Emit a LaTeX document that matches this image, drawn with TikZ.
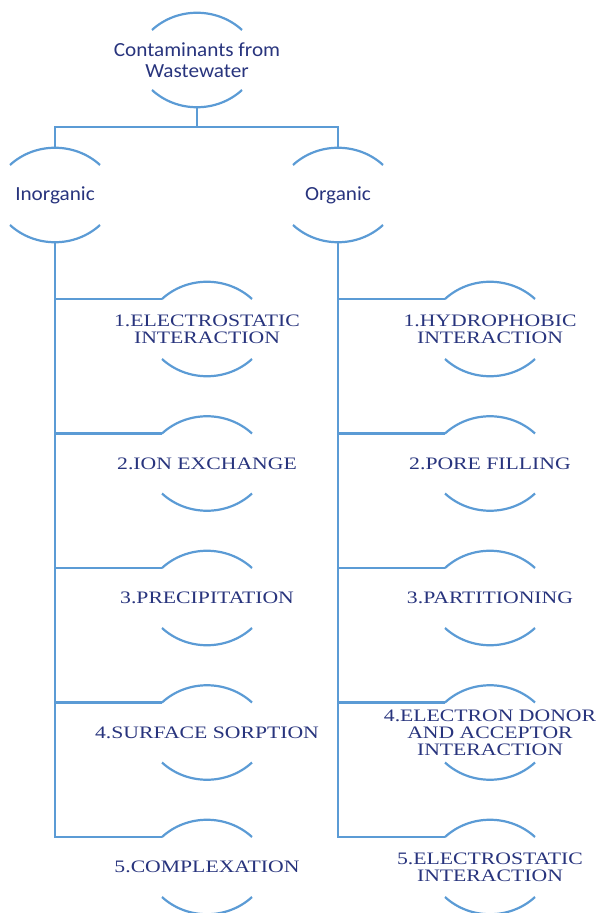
\documentclass[tikz,border=0pt]{standalone}
\usepackage{fontspec}
\newfontfamily\itemfont{Liberation Serif}[FakeStretch=1.24]
\newfontfamily\headfont{Carlito}[FakeStretch=1.06]
\definecolor{linkblue}{RGB}{91,155,213}
\definecolor{inkblue}{RGB}{40,52,125}

\begin{document}
\begin{tikzpicture}[x=0.5pt,y=-0.5pt,
  conn/.style={draw=linkblue, line width=1.1pt},
  head/.style={font=\headfont\fontsize{10}{10.5}\selectfont, text=inkblue, align=center, inner sep=0pt},
  item/.style={font=\itemfont\fontsize{8.75}{8.5}\selectfont, text=inkblue, align=center, inner sep=0pt},
  pics/arcpair/.style={code={
    \draw[conn] (-45,-30) .. controls (-20,-53) and (20,-53) .. (45,-30);
    \draw[conn] (-45,30) .. controls (-20,53) and (20,53) .. (45,30);
    \coordinate (-in) at (-45,-30);
    \coordinate (-top) at (0,-47);
    \coordinate (-bot) at (0,47);
  }}]
\useasboundingbox (0,0) rectangle (598,913);

% root and the two classes
\node[head] (T) at (197,60) {Contaminants from\\Wastewater};
\pic (AT) at (197,60) {arcpair};
\node[head] (I) at (55,195) {Inorganic};
\pic (AI) at (55,195) {arcpair};
\node[head] (O) at (338,195) {Organic};
\pic (AO) at (338,195) {arcpair};

% inorganic mechanisms
\node[item] (L1) at (207,329) {1.ELECTROSTATIC\\INTERACTION};
\node[item] (L2) at (207,463.5) {2.ION EXCHANGE};
\node[item] (L3) at (207,598) {3.PRECIPITATION};
\node[item] (L4) at (207,732.5) {4.SURFACE SORPTION};
\node[item] (L5) at (207,867) {5.COMPLEXATION};
\foreach \k/\y in {1/329,2/463.5,3/598,4/732.5,5/867}
  \pic (AL\k) at (207,\y) {arcpair};

% organic mechanisms
\node[item] (R1) at (490,329) {1.HYDROPHOBIC\\INTERACTION};
\node[item] (R2) at (490,463.5) {2.PORE FILLING};
\node[item] (R3) at (490,598) {3.PARTITIONING};
\node[item] (R4) at (490,732.5) {4.ELECTRON DONOR\\AND ACCEPTOR\\INTERACTION};
\node[item] (R5) at (490,867) {5.ELECTROSTATIC\\INTERACTION};
\foreach \k/\y in {1/329,2/463.5,3/598,4/732.5,5/867}
  \pic (AR\k) at (490,\y) {arcpair};

% connectors
\coordinate (split) at (197,127);
\draw[conn] (AT-bot) -- (split);
\draw[conn] (AI-top) |- (split) -| (AO-top);

\draw[conn] (AI-bot) |- (AL5-in);
\foreach \k in {1,...,4}
  \draw[conn] (AL\k-in) -- (AI-bot |- AL\k-in);

\draw[conn] (AO-bot) |- (AR5-in);
\foreach \k in {1,...,4}
  \draw[conn] (AR\k-in) -- (AO-bot |- AR\k-in);
\end{tikzpicture}
\end{document}
